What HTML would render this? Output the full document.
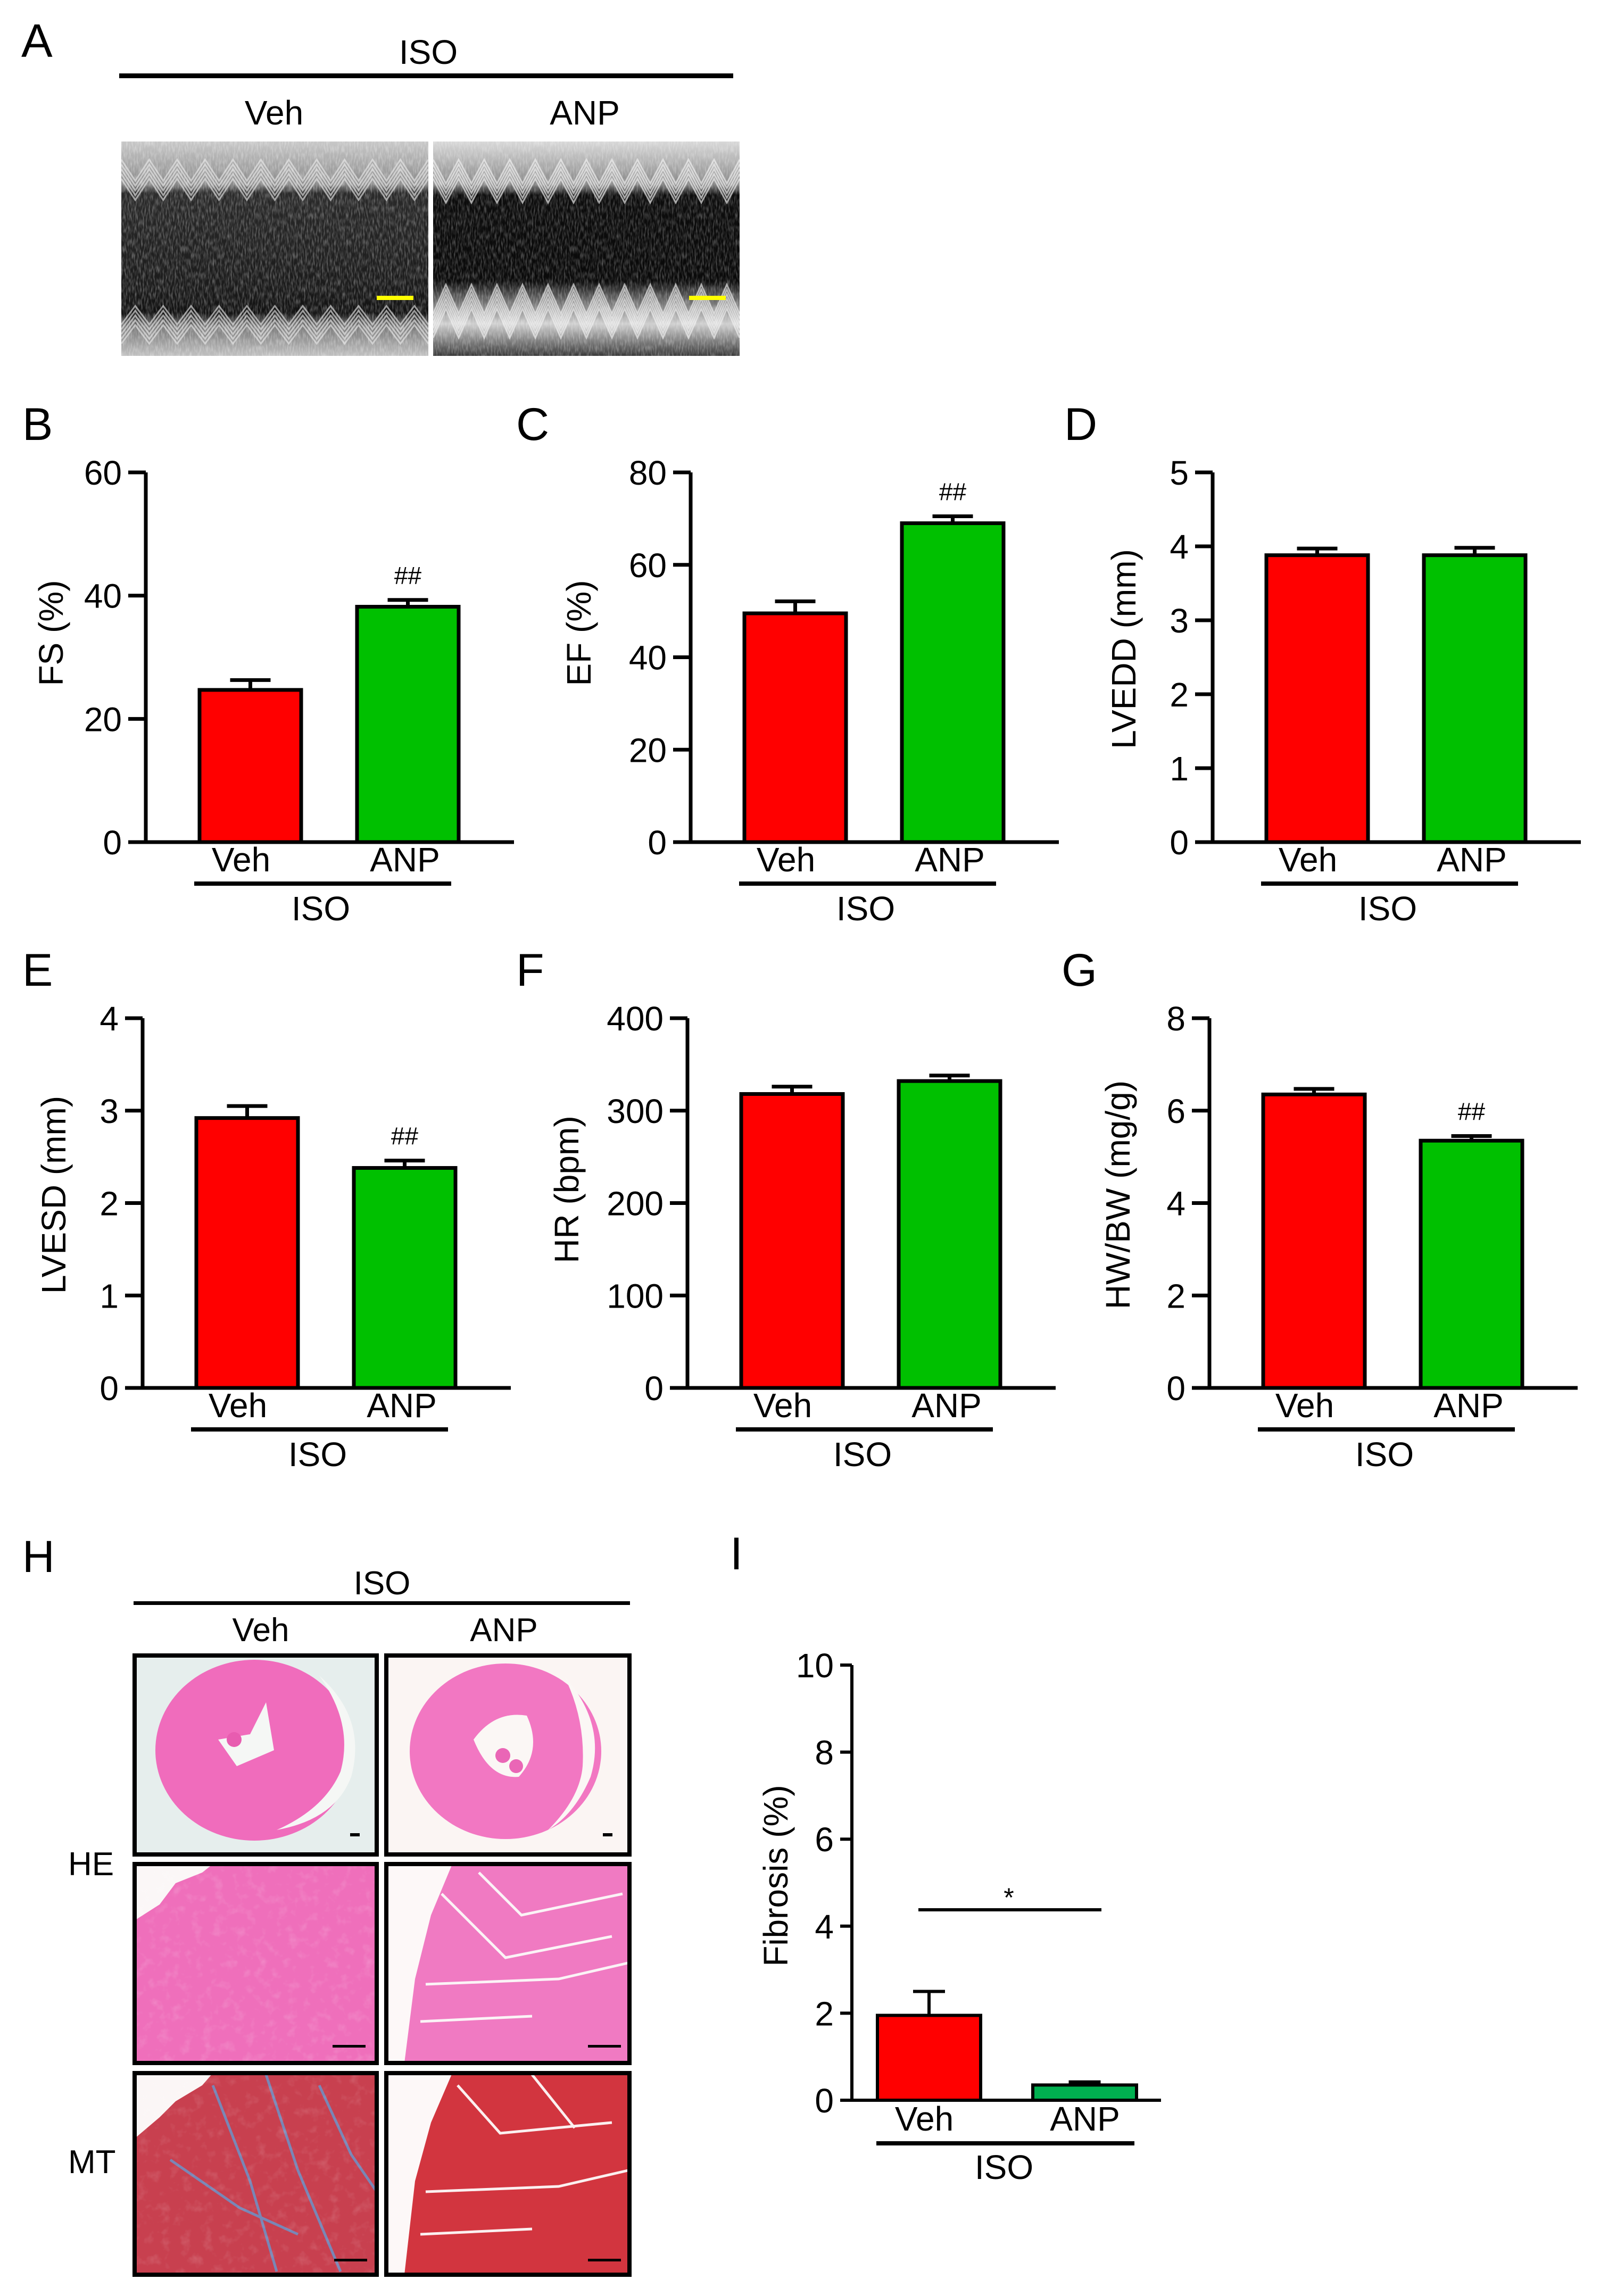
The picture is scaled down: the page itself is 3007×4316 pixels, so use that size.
<!DOCTYPE html>
<html><head><meta charset="utf-8"><style>
html,body{margin:0;padding:0;background:#fff}
svg{display:block}
text{font-family:"Liberation Sans",Arial,sans-serif;fill:#000}
</style></head><body>
<svg id="fig" width="3007" height="4316" viewBox="0 0 3007 4316" xmlns="http://www.w3.org/2000/svg">
<defs>
<filter id="noise" x="0" y="0" width="100%" height="100%"><feTurbulence type="fractalNoise" baseFrequency="0.35 0.08" numOctaves="2" seed="3"/><feColorMatrix values="0 0 0 0 1  0 0 0 0 1  0 0 0 0 1  0 0 0 1.4 -0.55"/></filter>
<filter id="tex" x="0" y="0" width="100%" height="100%"><feTurbulence type="fractalNoise" baseFrequency="0.05" numOctaves="3" seed="7"/><feColorMatrix values="0 0 0 0 1  0 0 0 0 1  0 0 0 0 1  0 0 0 2.2 -1.15"/></filter>
<linearGradient id="echoV" x1="0" y1="0" x2="0" y2="1"><stop offset="0" stop-color="#c8c8c8"/><stop offset="0.2" stop-color="#8a8a8a"/><stop offset="0.24" stop-color="#2a2a2a"/><stop offset="0.7" stop-color="#1a1a1a"/><stop offset="0.8" stop-color="#111"/><stop offset="0.86" stop-color="#777"/><stop offset="1" stop-color="#c0c0c0"/></linearGradient>
<linearGradient id="echoA" x1="0" y1="0" x2="0" y2="1"><stop offset="0" stop-color="#d8d8d8"/><stop offset="0.2" stop-color="#888"/><stop offset="0.25" stop-color="#0c0c0c"/><stop offset="0.65" stop-color="#0a0a0a"/><stop offset="0.72" stop-color="#555"/><stop offset="0.85" stop-color="#cfcfcf"/><stop offset="1" stop-color="#3a3a3a"/></linearGradient>
</defs>

<!-- Panel A -->
<text x="40" y="107" font-size="88">A</text>
<text x="805" y="120" font-size="64" text-anchor="middle">ISO</text>
<rect x="224" y="138" width="1154" height="9" fill="#000"/>
<text x="515" y="234" font-size="64" text-anchor="middle">Veh</text>
<text x="1099" y="234" font-size="64" text-anchor="middle">ANP</text>
<g>
<rect x="228" y="266" width="577" height="403" fill="url(#echoV)"/>
<rect x="228" y="266" width="577" height="403" filter="url(#noise)" opacity="0.5"/>
<g id="zigV" fill="none" stroke="#eee" stroke-width="3" opacity="0.6"></g>
<rect x="708" y="556" width="69" height="8" fill="#ffff00"/>
</g>
<g>
<rect x="814" y="266" width="576" height="403" fill="url(#echoA)"/>
<rect x="814" y="266" width="576" height="403" filter="url(#noise)" opacity="0.45"/>
<g id="zigA" fill="none" stroke="#f4f4f4" stroke-width="3" opacity="0.65"></g>
<rect x="1295" y="556" width="69" height="8" fill="#ffff00"/>
</g>

<g id="charts"></g>

<!-- Panel H -->
<text x="42" y="2955" font-size="84">H</text>
<text x="718" y="2997" font-size="62" text-anchor="middle">ISO</text>
<rect x="251" y="3010" width="933" height="7" fill="#000"/>
<text x="490" y="3085" font-size="62" text-anchor="middle">Veh</text>
<text x="947" y="3085" font-size="62" text-anchor="middle">ANP</text>
<text x="128" y="3525" font-size="62">HE</text>
<text x="128" y="4085" font-size="62">MT</text>

<g>
<rect x="253" y="3112" width="455" height="374" fill="#e6eeed"/>
<ellipse cx="478" cy="3290" rx="186" ry="170" fill="#f06cbc"/>
<path d="M600 3150 Q690 3230 660 3340 Q630 3420 520 3440 Q610 3400 640 3330 Q665 3240 600 3150 Z" fill="#f5f7f5"/>
<path d="M410 3270 L470 3260 L500 3200 L515 3290 L445 3320 Z" fill="#f5f7f5"/>
<circle cx="440" cy="3270" r="14" fill="#e85cb0"/>
<rect x="658" y="3446" width="18" height="6" fill="#000"/>
</g>
<g>
<rect x="726" y="3112" width="457" height="374" fill="#fbf5f3"/>
<ellipse cx="950" cy="3292" rx="180" ry="165" fill="#f277c2"/>
<path d="M1060 3150 Q1140 3240 1110 3340 Q1080 3410 1030 3440 Q1090 3380 1095 3320 Q1100 3230 1060 3150 Z" fill="#fbf7f5"/>
<path d="M890 3270 Q930 3215 990 3225 Q1020 3290 975 3340 Q920 3345 890 3270 Z" fill="#fbf7f5"/>
<circle cx="945" cy="3300" r="14" fill="#ea66b6"/><circle cx="970" cy="3320" r="13" fill="#ea66b6"/>
<rect x="1133" y="3446" width="18" height="6" fill="#000"/>
</g>
<g>
<rect x="253" y="3504" width="455" height="374" fill="#fbf7f7"/>
<path d="M253 3878 L253 3610 L300 3580 L330 3540 L380 3520 L400 3504 L708 3504 L708 3878 Z" fill="#ef6fbb"/>
<rect x="253" y="3504" width="455" height="374" filter="url(#tex)" opacity="0.18"/>
<rect x="625" y="3844" width="62" height="5" fill="#000"/>
</g>
<g>
<rect x="726" y="3504" width="457" height="374" fill="#fdf8f8"/>
<path d="M760 3878 L780 3720 L810 3600 L850 3504 L1183 3504 L1183 3878 Z" fill="#f07ac2"/>
<g stroke="#fbf3f6" stroke-width="5" fill="none"><path d="M830 3560 L950 3680 L1150 3640"/><path d="M800 3730 L1050 3720 L1180 3690"/><path d="M790 3800 L1000 3790"/><path d="M900 3520 L980 3600 L1170 3560"/></g>
<rect x="1105" y="3844" width="62" height="5" fill="#000"/>
</g>
<g>
<rect x="253" y="3897" width="455" height="379" fill="#fbf6f6"/>
<path d="M253 4276 L253 4020 L300 3980 L330 3950 L380 3920 L400 3897 L708 3897 L708 4276 Z" fill="#c8404f"/>
<g stroke="#6c93c8" stroke-width="5" fill="none" opacity="0.85"><path d="M400 3920 L470 4100 L520 4270"/><path d="M500 3900 L560 4080 L640 4270"/><path d="M320 4060 L450 4150 L560 4200"/><path d="M600 3920 L660 4050 L708 4120"/></g>
<rect x="253" y="3897" width="455" height="379" filter="url(#tex)" opacity="0.15"/>
<rect x="628" y="4246" width="62" height="5" fill="#000"/>
</g>
<g>
<rect x="726" y="3897" width="457" height="379" fill="#fdf8f8"/>
<path d="M760 4276 L780 4100 L810 3990 L850 3897 L1183 3897 L1183 4276 Z" fill="#d2353f"/>
<g stroke="#fbf0f0" stroke-width="5" fill="none"><path d="M860 3920 L940 4010 L1150 3990"/><path d="M800 4120 L1050 4110 L1180 4080"/><path d="M790 4200 L1000 4190"/><path d="M1000 3900 L1080 4000"/></g>
<rect x="1105" y="4246" width="62" height="5" fill="#000"/>
</g>
<g fill="none" stroke="#000" stroke-width="8">
<rect x="253" y="3112" width="455" height="374"/><rect x="726" y="3112" width="457" height="374"/>
<rect x="253" y="3504" width="455" height="374"/><rect x="726" y="3504" width="457" height="374"/>
<rect x="253" y="3897" width="455" height="379"/><rect x="726" y="3897" width="457" height="379"/>
</g>
</svg>
<script>
// ---- chart data ----
const categories = ['Veh', 'ANP'];
const fsValues = [24.7, 38.2];
const fsErrors = [1.6, 1.1];
const efValues = [49.5, 69.0];
const efErrors = [2.6, 1.5];
const lvedValues = [3.88, 3.88];
const lvedErrors = [0.09, 0.1];
const lvesValues = [2.92, 2.38];
const lvesErrors = [0.13, 0.08];
const hrValues = [318, 332];
const hrErrors = [8, 6];
const hwbwValues = [6.35, 5.35];
const hwbwErrors = [0.12, 0.1];
const fibrosisValues = [1.95, 0.35];
const fibrosisErrors = [0.55, 0.07];
const fsTicks = [0, 20, 40, 60];
const efTicks = [0, 20, 40, 60, 80];
const lvedTicks = [0, 1, 2, 3, 4, 5];
const lvesTicks = [0, 1, 2, 3, 4];
const hrTicks = [0, 100, 200, 300, 400];
const hwbwTicks = [0, 2, 4, 6, 8];
const fibrosisTicks = [0, 2, 4, 6, 8, 10];

const NS = 'http://www.w3.org/2000/svg';
const root = document.getElementById('charts');
function el(tag, attrs, parent) {
  const e = document.createElementNS(NS, tag);
  for (const k in attrs) e.setAttribute(k, attrs[k]);
  (parent || root).appendChild(e);
  return e;
}
function txt(s, attrs, parent) { const t = el('text', attrs, parent); t.textContent = s; return t; }

function chart(o) {
  const g = el('g', {});
  
  
  const ax = o.ax, y0 = o.y0, yT = o.yTop, max = o.ticks[o.ticks.length - 1];
  const ys = v => y0 - (v / max) * (y0 - yT);
  const sw = o.sw || 7;
  const fs = 64;
  const lbl = txt(o.letter, {x: o.letterX, y: o.letterY, 'font-size': 86}, g);
  
  
  const barX = [[o.b1, o.b2], [o.b3, o.b4]];
  o.values.forEach((v, i) => {
    const cx = (barX[i][0] + barX[i][1]) / 2;
    const et = ys(v + o.errors[i]);
    const eline = el('path', {d: `M${cx} ${ys(v)} L${cx} ${et} M${cx - o.cap} ${et} L${cx + o.cap} ${et}`, stroke: '#000', 'stroke-width': sw, fill: 'none'}, g);
    
    
    const r = el('rect', {x: barX[i][0], y: ys(v), width: barX[i][1] - barX[i][0], height: y0 - ys(v), fill: o.colors[i], stroke: '#000', 'stroke-width': sw}, g);
    
    
    const cl = txt(categories[i], {x: o.catX[i], y: o.catY, 'font-size': fs, 'text-anchor': 'middle'}, g);
    
    
    if (o.marks && o.marks[i]) {
      const m = txt(o.marks[i], {x: cx, y: et - 30, 'font-size': 46, 'text-anchor': 'middle'}, g);
      
      
    }
  });
  const axes = el('path', {d: `M${ax} ${yT} L${ax} ${y0} L${o.axEnd} ${y0}`, stroke: '#000', 'stroke-width': sw, fill: 'none'}, g);
  
  
  o.ticks.forEach(t => {
    const tk = el('line', {x1: ax - o.tickLen, x2: ax, y1: ys(t), y2: ys(t), stroke: '#000', 'stroke-width': sw}, g);
    
    
    const tl = txt(String(t), {x: ax - o.tickLen - 12, y: ys(t) + 23, 'font-size': fs, 'text-anchor': 'end'}, g);
    
    
  });
  const title = txt(o.title, {x: 0, y: 0, 'font-size': fs, 'text-anchor': 'middle', transform: `translate(${o.titleX},${o.titleY}) rotate(-90)`}, g);
  
  
  const isoBar = el('rect', {x: o.isoX1, y: o.isoY - 4, width: o.isoX2 - o.isoX1, height: 8, fill: '#000'}, g);
  
  
  const iso = txt('ISO', {x: o.isoTX, y: o.isoTY, 'font-size': fs, 'text-anchor': 'middle'}, g);
  
  
  return {g, ys};
}

function stdChart(name, letter, ax, letterX, rowOff, values, errors, ticks, title, marks, titleOff, titleDy) {
  const y0 = 1583 + rowOff, yTop = 888 + rowOff;
  return chart({name, letter, letterX, letterY: 827 + rowOff, ax, y0, yTop, ticks, values, errors, title, marks,
    b1: ax + 101, b2: ax + 292, b3: ax + 397, b4: ax + 588, axEnd: ax + 692, cap: 38, tickLen: 33,
    colors: ['#ff0000', '#00c000'], catX: [ax + 179, ax + 487], catY: 1638 + rowOff,
    titleX: ax - titleOff, titleY: 1190 + rowOff + titleDy,
    isoX1: ax + 91, isoX2: ax + 574, isoY: 1661 + rowOff, isoTX: ax + 329, isoTY: 1730 + rowOff});
}
stdChart('fs-chart', 'B', 274, 42, 0, fsValues, fsErrors, fsTicks, 'FS (%)', [null, '##'], 156, 0);
stdChart('ef-chart', 'C', 1298, 970, 0, efValues, efErrors, efTicks, 'EF (%)', [null, '##'], 188, 0);
stdChart('lvedd-chart', 'D', 2279, 2000, 0, lvedValues, lvedErrors, lvedTicks, 'LVEDD (mm)', null, 145, 30);
stdChart('lvesd-chart', 'E', 268, 42, 1026, lvesValues, lvesErrors, lvesTicks, 'LVESD (mm)', [null, '##'], 145, 30);
stdChart('hr-chart', 'F', 1292, 970, 1026, hrValues, hrErrors, hrTicks, 'HR (bpm)', null, 205, 20);
stdChart('hwbw-chart', 'G', 2273, 1995, 1026, hwbwValues, hwbwErrors, hwbwTicks, 'HW/BW (mg/g)', [null, '##'], 150, 30);

const fib = chart({name: 'fibrosis-chart', letter: 'I', letterX: 1372, letterY: 2950, ax: 1601, y0: 3948, yTop: 3130,
  ticks: fibrosisTicks, values: fibrosisValues, errors: fibrosisErrors, title: 'Fibrosis (%)', marks: null,
  b1: 1649, b2: 1843, b3: 1941, b4: 2136, axEnd: 2182, cap: 30, tickLen: 22, sw: 6,
  colors: ['#ff0000', '#00b050'], catX: [1737, 2039], catY: 4005,
  titleX: 1480, titleY: 3526, isoX1: 1647, isoX2: 2132, isoY: 4029, isoTX: 1887, isoTY: 4096});
const sig = el('line', {x1: 1726, x2: 2070, y1: 3590, y2: 3590, stroke: '#000', 'stroke-width': 6}, fib.g);


const star = txt('*', {x: 1896, y: 3590 - 6, 'font-size': 50, 'text-anchor': 'middle'}, fib.g);



// decorative echo wall traces
function zig(id, x1, x2, y, amp, n, count) {
  const g = document.getElementById(id);
  for (let k = 0; k < count; k++) {
    let d = '';
    const w = (x2 - x1) / n;
    for (let i = 0; i <= n; i++) {
      const px = x1 + i * w, py = y + k * 9 + (i % 2 ? amp : 0);
      d += (i ? 'L' : 'M') + px.toFixed(1) + ' ' + py;
    }
    const p = document.createElementNS(NS, 'path');
    p.setAttribute('d', d);
    g.appendChild(p);
  }
}
zig('zigV', 228, 805, 300, 40, 22, 5);
zig('zigV', 228, 805, 610, -35, 22, 5);
zig('zigA', 814, 1390, 300, 45, 24, 5);
zig('zigA', 814, 1390, 590, -55, 24, 6);
</script>
</body></html>
